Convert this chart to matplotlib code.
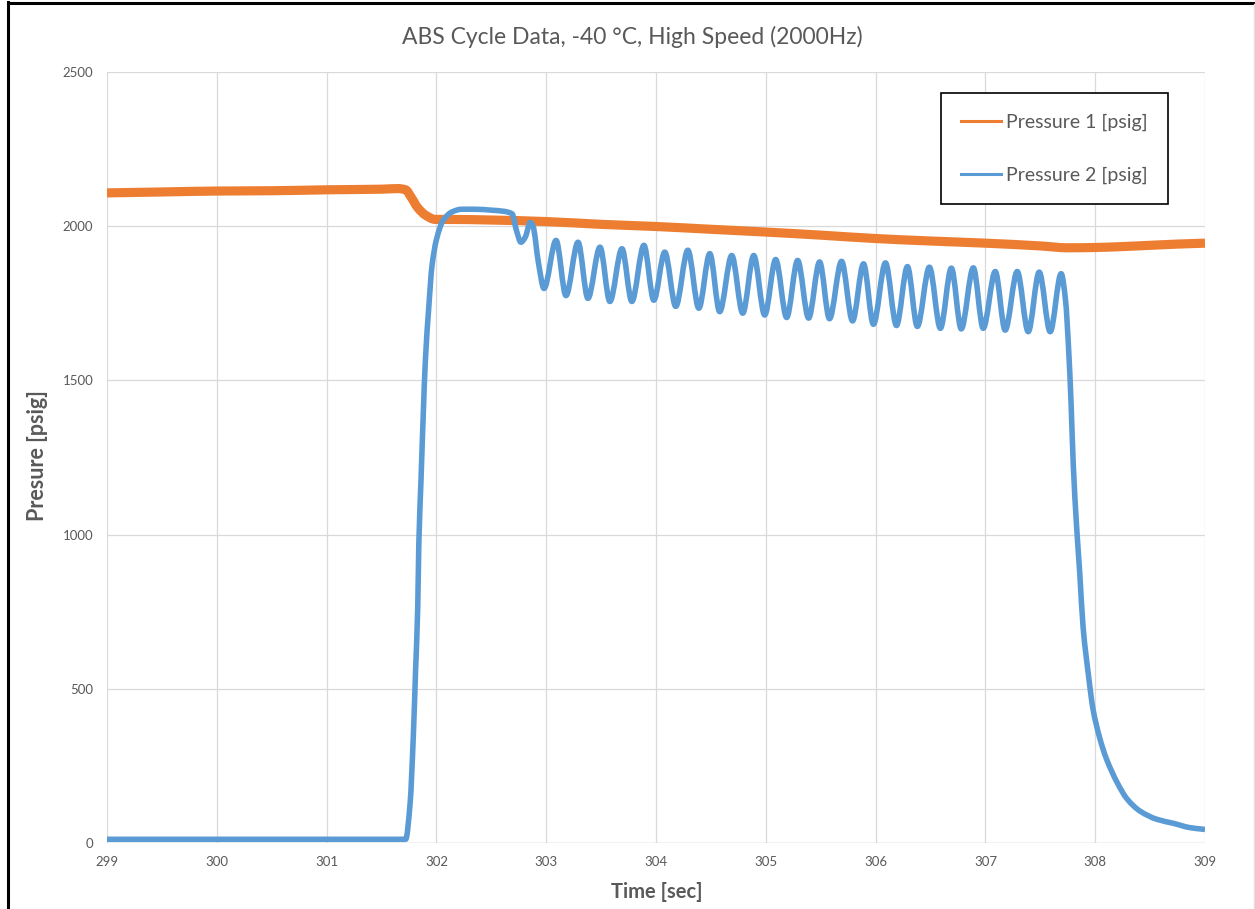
import matplotlib
matplotlib.use("Agg")
import matplotlib.pyplot as plt
from matplotlib.lines import Line2D
from matplotlib.path import Path
from matplotlib.patches import PathPatch

# ---------------- data ----------------
title = "ABS Cycle Data, -40 \u00b0C, High Speed (2000Hz)"
x_label = "Time [sec]"
y_label = "Presure [psig]"
series_names = ["Pressure 1 [psig]", "Pressure 2 [psig]"]

x_ticks = [299, 300, 301, 302, 303, 304, 305, 306, 307, 308, 309]
y_ticks = [0, 500, 1000, 1500, 2000, 2500]

# Pressure 1 (orange)
p1_time = [299.0, 299.5, 300.0, 300.5, 301.0, 301.5, 301.65, 301.72, 301.77,
           301.83, 301.90, 301.99, 302.1, 302.5, 303.0, 303.5, 304.0, 304.5,
           305.0, 305.5, 306.0, 306.5, 307.0, 307.5, 307.75, 308.0, 308.25,
           308.5, 308.75, 309.0]
p1_vals = [2108, 2111, 2114, 2115, 2118, 2120, 2122, 2118, 2094,
           2060, 2036, 2022, 2022, 2020, 2015, 2006, 1999, 1990,
           1981, 1971, 1960, 1952, 1945, 1936, 1930, 1931, 1934,
           1938, 1942, 1945]

# Pressure 2 (blue): idle, rise, plateau, first dip
p2_start_time = [299.0, 301.72, 301.76, 301.79, 301.81, 301.83, 301.84, 301.86,
                 301.88, 301.90, 301.93, 301.96, 302.00, 302.06, 302.14, 302.23,
                 302.35, 302.50, 302.62, 302.69, 302.73, 302.77, 302.81, 302.855,
                 302.88, 302.93]
p2_start_vals = [12, 12, 126, 348, 556, 764, 972, 1179,
                 1387, 1568, 1734, 1872, 1956, 2018, 2046, 2055,
                 2055, 2052, 2048, 2040, 1985, 1948, 1965, 2012,
                 2000, 1880]

# ABS oscillation: troughs and peaks
p2_trough_time = [302.98, 303.18, 303.38, 303.58, 303.78, 303.98, 304.18, 304.39,
                  304.58, 304.79, 304.99, 305.19, 305.39, 305.58, 305.79, 305.98,
                  306.19, 306.38, 306.59, 306.78, 306.98, 307.18, 307.39, 307.59]
p2_trough_vals = [1798, 1775, 1766, 1756, 1756, 1760, 1740, 1734,
                  1723, 1718, 1712, 1704, 1702, 1700, 1693, 1682,
                  1678, 1675, 1669, 1667, 1669, 1663, 1658, 1658]
p2_peak_time = [303.09, 303.29, 303.49, 303.69, 303.89, 304.08, 304.29, 304.49,
                304.69, 304.89, 305.09, 305.29, 305.49, 305.69, 305.89, 306.09,
                306.29, 306.49, 306.69, 306.89, 307.09, 307.29, 307.49, 307.69]
p2_peak_vals = [1954, 1948, 1932, 1927, 1938, 1916, 1922, 1911,
                1905, 1905, 1892, 1889, 1884, 1886, 1878, 1881,
                1869, 1867, 1864, 1865, 1853, 1853, 1851, 1846]

# release
p2_end_time = [307.73, 307.76, 307.78, 307.80, 307.83, 307.86, 307.89, 307.94,
               307.98, 308.04, 308.10, 308.20, 308.29, 308.41, 308.56, 308.71,
               308.86, 309.0]
p2_end_vals = [1759, 1587, 1428, 1229, 1030, 871, 699, 540,
               434, 342, 275, 196, 143, 103, 77, 64,
               50, 44]

# ---------------- assemble blue series ----------------
osc_time = []
osc_vals = []
for tt, tv, pt, pv in zip(p2_trough_time, p2_trough_vals, p2_peak_time, p2_peak_vals):
    osc_time += [tt, pt]
    osc_vals += [tv, pv]
p2_time = p2_start_time + osc_time + p2_end_time
p2_vals = p2_start_vals + osc_vals + p2_end_vals


def smooth_path(t, v):
    """Smoothed (monotone, no overshoot) line through the read points."""
    n = len(t)
    d = [(v[i + 1] - v[i]) / (t[i + 1] - t[i]) for i in range(n - 1)]
    m = [d[0]]
    for i in range(1, n - 1):
        a, b = d[i - 1], d[i]
        if a * b <= 0:
            m.append(0.0)
        else:
            m.append(2.0 / (1.0 / a + 1.0 / b))
    m.append(d[-1])
    verts = [(t[0], v[0])]
    codes = [Path.MOVETO]
    for i in range(n - 1):
        dt = t[i + 1] - t[i]
        verts += [(t[i] + dt / 3, v[i] + m[i] * dt / 3),
                  (t[i + 1] - dt / 3, v[i + 1] - m[i + 1] * dt / 3),
                  (t[i + 1], v[i + 1])]
        codes += [Path.CURVE4] * 3
    return Path(verts, codes)


# ---------------- styling ----------------
plt.rcParams['font.family'] = ['Lato', 'DejaVu Sans']
ORANGE = "#ED7D31"
BLUE = "#5B9BD5"
GRAY_TXT = "#595959"
GRID = "#D9D9D9"

W, H = 1255, 909
fig = plt.figure(figsize=(W / 100, H / 100), dpi=100)
fig.patch.set_facecolor("white")

ax = fig.add_axes([107 / W, 1 - 843 / H, (1205 - 107) / W, (843 - 72) / H])
ax.add_patch(PathPatch(smooth_path(p1_time, p1_vals), fill=False, edgecolor=ORANGE,
                       lw=6.6, joinstyle='round', capstyle='butt', zorder=3))
ax.add_patch(PathPatch(smooth_path(p2_time, p2_vals), fill=False, edgecolor=BLUE,
                       lw=4.0, joinstyle='round', capstyle='butt', zorder=4))

ax.set_xlim(299, 309)
ax.set_ylim(0, 2500)
ax.set_xticks(x_ticks)
ax.set_yticks(y_ticks)
ax.set_xticklabels([str(v) for v in x_ticks])
ax.set_yticklabels([str(v) for v in y_ticks])
ax.tick_params(length=0, labelsize=9.5, labelcolor=GRAY_TXT)
ax.tick_params(axis='y', pad=10)
ax.tick_params(axis='x', pad=9)
ax.grid(True, color=GRID, lw=0.9)
ax.set_axisbelow(True)
for s in ax.spines.values():
    s.set_visible(False)
ax.axhline(0, color=GRID, lw=1.0, zorder=1)

fig.text(632 / W, 1 - 37 / H, title, ha='center', va='center',
         fontsize=16.5, color=GRAY_TXT, fontweight='normal')
fig.text(657 / W, 1 - 892 / H, x_label, ha='center', va='center',
         fontsize=14.5, color=GRAY_TXT, fontweight='bold')
fig.text(38 / W, 1 - 456 / H, y_label, ha='center', va='center', rotation=90,
         fontsize=15.5, color=GRAY_TXT, fontweight='bold')

handles = [Line2D([0], [0], color=ORANGE, lw=2.2),
           Line2D([0], [0], color=BLUE, lw=2.2)]
leg = fig.legend(handles, series_names, loc='upper left',
                 bbox_to_anchor=(941 / W, 1 - 93 / H), bbox_transform=fig.transFigure,
                 fontsize=14, frameon=True, fancybox=False, framealpha=1,
                 edgecolor='black', borderpad=1.05, labelspacing=1.85,
                 handlelength=2.05, handletextpad=0.25, borderaxespad=0)
leg.get_frame().set_linewidth(1.2)
for t in leg.get_texts():
    t.set_color(GRAY_TXT)

# outer chart border (left/top black, right faint)
fig.add_artist(Line2D([7.5 / W, 7.5 / W], [0, 1 - 2 / H], color='black', lw=2.2,
                      transform=fig.transFigure))
fig.add_artist(Line2D([7.5 / W, 1], [1 - 3 / H, 1 - 3 / H], color='black', lw=2.2,
                      transform=fig.transFigure))
fig.add_artist(Line2D([1253.5 / W, 1253.5 / W], [0, 1 - 4 / H], color='#E0E0E0', lw=1,
                      transform=fig.transFigure))

fig.savefig("out.png", dpi=100, facecolor="white")
